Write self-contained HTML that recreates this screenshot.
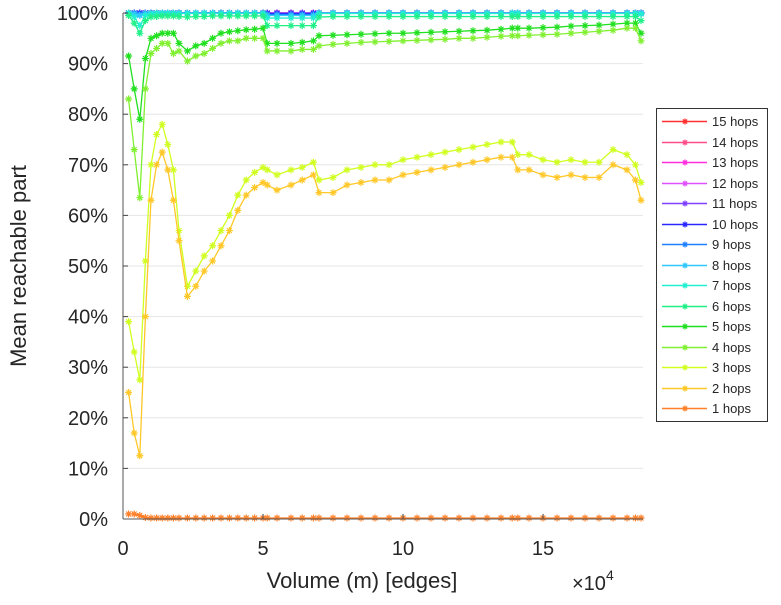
<!DOCTYPE html>
<html><head><meta charset="utf-8"><style>
body{margin:0;background:#fff;}
svg{font-family:"Liberation Sans",sans-serif;}
</style></head><body>
<svg id="chart" width="781" height="600" viewBox="0 0 781 600" xmlns="http://www.w3.org/2000/svg">
<g id="grid"></g>
<g id="series"></g>
<g id="axes"></g>
<g id="legend"></g>
</svg>
<script>
const xVals=[0.2,0.4,0.6,0.8,1.0,1.2,1.4,1.6,1.8,2.0,2.3,2.6,2.9,3.2,3.5,3.8,4.1,4.4,4.7,5.0,5.15,5.5,6.0,6.4,6.8,7.0,7.5,8.0,8.5,9.0,9.5,10,10.5,11,11.5,12,12.5,13,13.5,13.9,14.1,14.5,15,15.5,16,16.5,17,17.5,18,18.3,18.5];
const hops1=[1,1,0.7,0.3,0.2,0.2,0.2,0.2,0.2,0.2,0.2,0.2,0.2,0.2,0.2,0.2,0.2,0.2,0.2,0.2,0.2,0.2,0.2,0.2,0.2,0.2,0.2,0.2,0.2,0.2,0.2,0.2,0.2,0.2,0.2,0.2,0.2,0.2,0.2,0.2,0.2,0.2,0.2,0.2,0.2,0.2,0.2,0.2,0.2,0.2,0.2];
const hops2=[25,17,12.5,40,63,70,72.5,69,63,55,44,46,49,51,54,57,61,64,65.5,66.5,66,65,66,67,68,64.5,64.5,66,66.5,67,67,68,68.5,69,69.5,70,70.5,71,71.5,71.5,69,69,68,67.5,68,67.5,67.5,70,69,67,63];
const hops3=[39,33,27.5,51,70,76,78,74,69,57,46,49,52,54,57,60,64,67,68.5,69.5,69,68,69,69.5,70.5,67,67.5,69,69.5,70,70,71,71.5,72,72.5,73,73.5,74,74.5,74.5,72,72,71,70.5,71,70.5,70.5,73,72,70,66.5];
const hops4=[83,73,63.5,85,92,93,94,94,92,92.5,90.5,91.5,92,93,94,94.5,94.5,95,95,95,92.5,92.5,92.5,92.8,92.8,93.5,93.8,94,94.2,94.3,94.4,94.5,94.6,94.7,94.8,95,95,95.2,95.4,95.5,95.5,95.6,95.7,95.8,96,96.2,96.4,96.6,97,97,94.5];
const hops5=[91.5,85,79,91,95,95.5,96,96,96,94,92.5,93.5,94,95,96,96.3,96.5,96.7,96.8,97,94,94,94,94.2,94.5,95.5,95.6,95.7,95.8,95.9,96,96,96.1,96.2,96.3,96.4,96.5,96.6,96.8,97,97,97,97.1,97.2,97.4,97.5,97.6,97.8,98,98,96];
const hops6=[99.5,98,96,98.5,99.2,99.3,99.4,99.4,99.4,99.3,99.2,99.3,99.3,99.4,99.4,99.4,99.4,99.4,99.4,99.4,97.5,97.5,97.5,97.5,97.5,99.2,99.3,99.3,99.3,99.3,99.3,99.3,99.3,99.3,99.3,99.3,99.3,99.3,99.3,99.3,99.3,99.3,99.3,99.3,99.3,99.3,99.3,99.3,99.3,99.3,98.5];
const hops7=[100,99.2,97.5,99.5,99.8,99.9,99.9,99.9,99.9,99.9,99.9,99.9,99.9,99.9,99.9,99.9,99.9,99.9,99.9,99.9,99,99,99,99,99,99.9,99.9,99.9,99.9,99.9,99.9,99.9,99.9,99.9,99.9,99.9,99.9,99.9,99.9,99.9,99.9,99.9,99.9,99.9,99.9,99.9,99.9,99.9,99.9,99.9,99.8];
const hops8=[100,99.8,99.5,99.9,100,100,100,100,100,100,100,100,100,100,100,100,100,100,100,100,99.5,99.5,99.5,99.5,99.5,100,100,100,100,100,100,100,100,100,100,100,100,100,100,100,100,100,100,100,100,100,100,100,100,100,100];
const hops9=[100,100,99.8,100,100,100,100,100,100,100,100,100,100,100,100,100,100,100,100,100,99.7,99.7,99.7,99.7,99.7,100,100,100,100,100,100,100,100,100,100,100,100,100,100,100,100,100,100,100,100,100,100,100,100,100,100];
const hops10=[100,100,100,100,100,100,100,100,100,100,100,100,100,100,100,100,100,100,100,100,99.9,99.9,99.9,99.9,99.9,100,100,100,100,100,100,100,100,100,100,100,100,100,100,100,100,100,100,100,100,100,100,100,100,100,100];
const hopsTop=[100,100,100,100,100,100,100,100,100,100,100,100,100,100,100,100,100,100,100,100,100,100,100,100,100,100,100,100,100,100,100,100,100,100,100,100,100,100,100,100,100,100,100,100,100,100,100,100,100,100,100];
const seriesNames=["15 hops","14 hops","13 hops","12 hops","11 hops","10 hops","9 hops","8 hops","7 hops","6 hops","5 hops","4 hops","3 hops","2 hops","1 hops"];
const seriesColors=["#ff3030","#ff4d88","#ff30dd","#e050ff","#8040ff","#2828ff","#2080ff","#30c8ff","#20f0d0","#20f088","#20e020","#80f030","#d0ff20","#ffc828","#ff8028"];
const seriesData=[hopsTop,hopsTop,hopsTop,hopsTop,hopsTop,hops10,hops9,hops8,hops7,hops6,hops5,hops4,hops3,hops2,hops1];
const yTicks=[0,10,20,30,40,50,60,70,80,90,100];
const yTickLabels=["0%","10%","20%","30%","40%","50%","60%","70%","80%","90%","100%"];
const xTicks=[0,5,10,15];
const xTickLabels=["0","5","10","15"];

const NS="http://www.w3.org/2000/svg";
const L=123,R=643,T=13,B=519,XMAX=18.57;
const sx=v=>L+v/XMAX*(R-L);
const sy=v=>B-v/100*(B-T);
function mk(tag,attrs,parent){const e=document.createElementNS(NS,tag);for(const k in attrs)e.setAttribute(k,attrs[k]);parent.appendChild(e);return e;}
const grid=document.getElementById('grid'),ser=document.getElementById('series'),axes=document.getElementById('axes'),leg=document.getElementById('legend');
yTicks.forEach((t,i)=>{
  if(t>0){const g=mk('line',{x1:L,x2:R,y1:sy(t),y2:sy(t),stroke:'#e6e6e6','stroke-width':1},grid);
  
  }
  const tx=mk('text',{x:108,y:sy(t)+7,'text-anchor':'end','font-size':20,fill:'#262626'},axes);
  tx.textContent=yTickLabels[i];
  
  
  const tk=mk('line',{x1:L,x2:L+5,y1:sy(t),y2:sy(t),stroke:'#444'},axes);
  
  
});
xTicks.forEach((t,i)=>{
  const tx=mk('text',{x:sx(t),y:555,'text-anchor':'middle','font-size':20,fill:'#262626'},axes);
  tx.textContent=xTickLabels[i];
  
  
  const tk=mk('line',{x1:sx(t),x2:sx(t),y1:B,y2:B-5,stroke:'#444'},axes);
  
  
});
const ax1=mk('line',{x1:L,x2:L,y1:T,y2:B,stroke:'#555','stroke-width':1},axes);


const ax2=mk('line',{x1:L,x2:R,y1:B,y2:B,stroke:'#555','stroke-width':1},axes);


const xt=mk('text',{x:362,y:588,'text-anchor':'middle','font-size':22,fill:'#262626'},axes);
xt.textContent='Volume (m) [edges]';


const ex=mk('text',{x:572,y:590,'font-size':20,fill:'#262626'},axes);
ex.innerHTML='×10<tspan dy="-10" font-size="14">4</tspan>';


const yt=mk('text',{x:0,y:0,'text-anchor':'middle','font-size':22,fill:'#262626',transform:'translate(26,266) rotate(-90)'},axes);
yt.textContent='Mean reachable part';



function star(g,x,y,c,s){
  const d=`M${x-s},${y}H${x+s}M${x},${y-s}V${y+s}M${x-s*0.7},${y-s*0.7}L${x+s*0.7},${y+s*0.7}M${x-s*0.7},${y+s*0.7}L${x+s*0.7},${y-s*0.7}`;
  mk('path',{d:d,stroke:c,'stroke-width':1.2,fill:'none'},g);
}
for(let k=0;k<seriesData.length;k++){
  const data=seriesData[k],c=seriesColors[k];
  const g=mk('g',{},ser);
  
  
  const pts=data.map((v,i)=>sx(xVals[i])+','+sy(v)).join(' ');
  mk('polyline',{points:pts,fill:'none',stroke:c,'stroke-width':1.3},g);
  data.forEach((v,i)=>star(g,sx(xVals[i]),sy(v),c,3.5));
}
const box=mk('rect',{x:656.5,y:108.5,width:111,height:313,fill:'#fff',stroke:'#333','stroke-width':1},leg);


seriesNames.forEach((n,i)=>{
  const y=Math.round(121+i*20.5)+0.5;
  const g=mk('g',{},leg);
  
  
  mk('line',{x1:662,x2:707,y1:y,y2:y,stroke:seriesColors[i],'stroke-width':1.5},g);
  star(g,685,y,seriesColors[i],3);
  const t=mk('text',{x:712,y:y+4.5,'font-size':13,fill:'#262626'},g);
  t.textContent=n;
});
</script>
</body></html>
